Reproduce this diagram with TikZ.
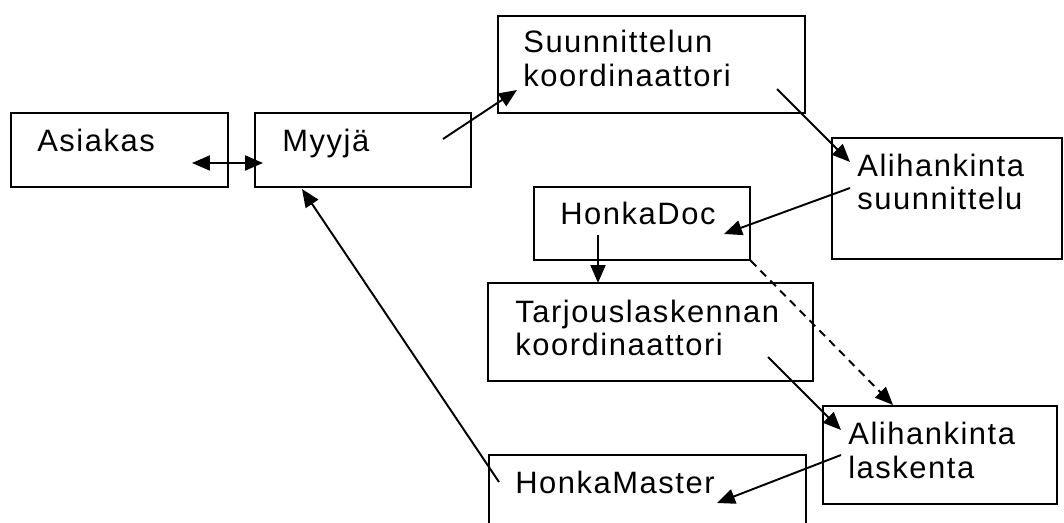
\documentclass[tikz,border=0pt]{standalone}
\usepackage{fontspec}
\setmainfont{Liberation Sans}[LetterSpace=5.0]
\usetikzlibrary{arrows.meta}
\begin{document}
\begin{tikzpicture}[x=0.02cm,y=-0.02cm,>={Triangle[length=3.6mm,width=3mm]},
        box/.style={draw,line width=0.7pt,inner sep=0pt},
        lbl/.style={anchor=base west,align=left,inner sep=0pt,font=\fontsize{17.6}{19.35}\selectfont},
        conn/.style={line width=1.1pt,->}]
        \useasboundingbox (0,0) rectangle (1064,523);
        \clip (0,0) rectangle (1064,523);
        % boxes
        \node[box,minimum width=4.34cm,minimum height=1.48cm] (asiakas) at (119.5,150) {};
        \node[box,minimum width=4.32cm,minimum height=1.48cm] (myyja) at (363,150) {};
        \node[box,minimum width=6.14cm,minimum height=1.94cm] (suun) at (651.5,64.5) {};
        \node[box,minimum width=4.60cm,minimum height=2.42cm] (alis) at (947,198.5) {};
        \node[box,minimum width=4.32cm,minimum height=1.46cm] (doc) at (642,223.5) {};
        \node[box,minimum width=6.50cm,minimum height=1.96cm] (tarj) at (650.5,332) {};
        \node[box,minimum width=4.68cm,minimum height=1.96cm] (alil) at (940,455) {};
        \node[box,minimum width=6.34cm,minimum height=1.80cm] (master) at (647.5,500) {};
        % texts (base = last line)
        \node[lbl] (asiakas-t) at (37,152) {Asiakas};
        \node[lbl] (myyja-t) at (282,152) {Myyjä};
        \node[lbl] (suun-t) at (523,87) {Suunnittelun\\koordinaattori};
        \node[lbl] (alis-t) at (857,210) {Alihankinta\\suunnittelu};
        \node[lbl] (doc-t) at (560,225) {HonkaDoc};
        \node[lbl] (tarj-t) at (515,356) {Tarjouslaskennan\\koordinaattori};
        \node[lbl] (alil-t) at (848,478) {Alihankinta\\laskenta};
        \node[lbl] (master-t) at (515,493) {HonkaMaster};
        % arrow ends
        \coordinate (as1) at (192,163);
        \coordinate (my1) at (263,163);
        \coordinate (my2) at (443,139);
        \coordinate (su1) at (517,90);
        \coordinate (su2) at (777,89);
        \coordinate (as2) at (850,162);
        \coordinate (as3) at (850,188);
        \coordinate (do1) at (724,234);
        \coordinate (do2) at (598,235);
        \coordinate (ta1) at (598,283);
        \coordinate (al1) at (893,405);
        \coordinate (ta2) at (768,357);
        \coordinate (al2) at (841,430);
        \coordinate (al3) at (841,455);
        \coordinate (ma1) at (717,503);
        \coordinate (ma2) at (499,482);
        \coordinate (my3) at (302,189);

        \draw[conn,<->] (as1) -- (my1);
        \draw[conn] (my2) -- (su1);
        \draw[conn] (su2) -- (as2);
        \draw[conn] (as3) -- (do1);
        \draw[conn] (do2) -- (ta1);
        \draw[conn,dashed,dash pattern=on 1.6mm off 1.2mm] (doc.south east) -- (al1);
        \draw[conn] (ta2) -- (al2);
        \draw[conn] (al3) -- (ma1);
        \draw[conn] (ma2) -- (my3);
    \end{tikzpicture}
\end{document}
